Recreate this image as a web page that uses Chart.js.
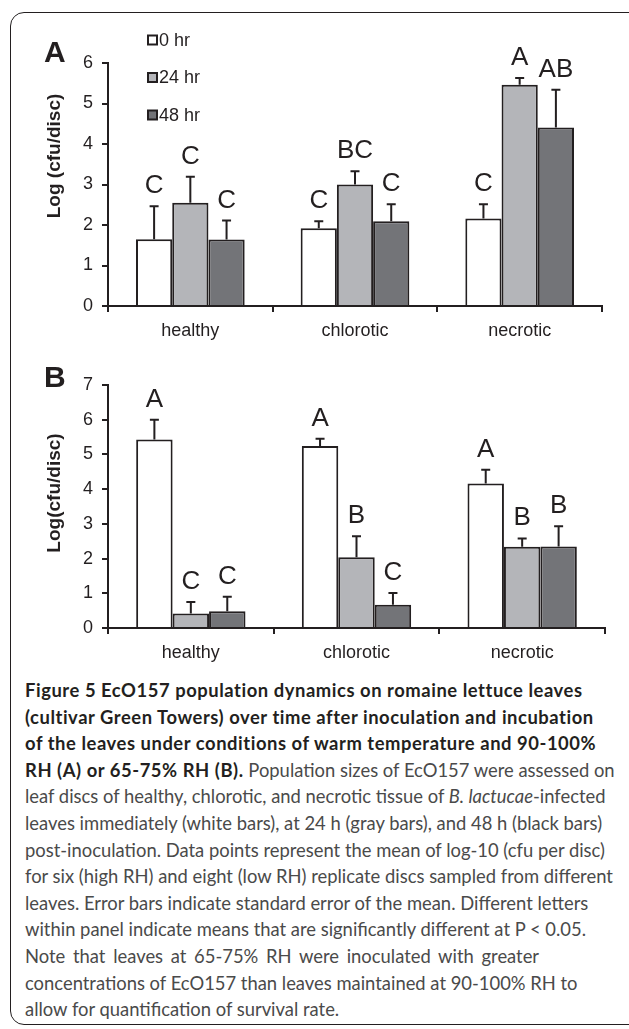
<!DOCTYPE html>
<html>
<head>
<meta charset="utf-8">
<script src="https://cdn.jsdelivr.net/npm/chart.js@4.4.1/dist/chart.umd.min.js"></script>
<style>
  html, body { margin: 0; padding: 0; background: #fff; }
  body { width: 629px; height: 1029px; position: relative; overflow: hidden; }
  .frame {
    position: absolute; left: 10px; top: 12px; width: 650px; height: 1013px;
    border: 1.5px solid #231f20; border-radius: 14px; box-sizing: border-box;
  }
  canvas { position: absolute; left: 0; }
  #chartA { top: 0; }
  #chartB { top: 345px; }
  .caption {
    position: absolute; left: 25px; top: 677px; width: 600px;
    font-family: Lato, "Open Sans", sans-serif; font-size: 18.4px; line-height: 26.6px;
    color: #4a4a4a; white-space: nowrap;
  }
  .caption b { color: #231f20; font-weight: 700; letter-spacing: 0.55px; }
</style>
</head>
<body>
<div class="frame"></div>
<canvas id="chartA" width="629" height="345"></canvas>
<canvas id="chartB" width="629" height="330"></canvas>
<div class="caption">
  <div><b>Figure 5 EcO157 population dynamics on romaine lettuce leaves</b></div>
  <div><b>(cultivar Green Towers) over time after inoculation and incubation</b></div>
  <div><b>of the leaves under conditions of warm temperature and 90-100%</b></div>
  <div><b>RH (A) or 65-75% RH (B).</b> Population sizes of EcO157 were assessed on</div>
  <div>leaf discs of healthy, chlorotic, and necrotic tissue of <i>B. lactucae</i>-infected</div>
  <div>leaves immediately (white bars), at 24 h (gray bars), and 48 h (black bars)</div>
  <div>post-inoculation. Data points represent the mean of log-10 (cfu per disc)</div>
  <div>for six (high RH) and eight (low RH) replicate discs sampled from different</div>
  <div>leaves. Error bars indicate standard error of the mean. Different letters</div>
  <div>within panel indicate means that are significantly different at P &lt; 0.05.</div>
  <div style="word-spacing: 3px;">Note that leaves at 65-75% RH were inoculated with greater</div>
  <div>concentrations of EcO157 than leaves maintained at 90-100% RH to</div>
  <div>allow for quantification of survival rate.</div>
</div>
<script>
const categories = ['healthy', 'chlorotic', 'necrotic'];
const seriesLabels = ['0 hr', '24 hr', '48 hr'];
const seriesColors = ['#ffffff', '#b4b5b9', '#737478'];

// panel A: 90-100% RH
const meanA0 = [1.65, 1.92, 2.16];
const meanA24 = [2.55, 3.00, 5.46];
const meanA48 = [1.64, 2.09, 4.41];
const seA0 = [0.81, 0.17, 0.35];
const seA24 = [0.64, 0.33, 0.17];
const seA48 = [0.47, 0.42, 0.93];
const lettersA0 = ['C', 'C', 'C'];
const lettersA24 = ['C', 'BC', 'A'];
const lettersA48 = ['C', 'C', 'AB'];

// panel B: 65-75% RH
const meanB0 = [5.43, 5.24, 4.16];
const meanB24 = [0.42, 2.04, 2.34];
const meanB48 = [0.48, 0.67, 2.35];
const seB0 = [0.57, 0.21, 0.40];
const seB24 = [0.33, 0.60, 0.24];
const seB48 = [0.42, 0.34, 0.58];
const lettersB0 = ['A', 'A', 'A'];
const lettersB24 = ['C', 'B', 'B'];
const lettersB48 = ['C', 'C', 'B'];

const ink = '#231f20';
const font = '"Liberation Sans", Arial, sans-serif';

// error bars (upper only) and significance letters
const errorBars = {
  id: 'errorBars',
  afterDatasetsDraw(chart) {
    const ctx = chart.ctx;
    const y = chart.scales.y;
    chart.data.datasets.forEach((ds, i) => {
      chart.getDatasetMeta(i).data.forEach((bar, j) => {
        const top = y.getPixelForValue(ds.data[j] + ds.errors[j]);
        ctx.save();
        ctx.strokeStyle = ink;
        ctx.lineWidth = 2;
        ctx.beginPath();
        ctx.moveTo(bar.x, bar.y);
        ctx.lineTo(bar.x, top);
        ctx.moveTo(bar.x - 4.5, top);
        ctx.lineTo(bar.x + 4.5, top);
        ctx.stroke();
        ctx.fillStyle = ink;
        ctx.font = '26px ' + font;
        ctx.textAlign = 'center';
        ctx.textBaseline = 'alphabetic';
        ctx.fillText(ds.letters[j], bar.x, top - 13);
        ctx.restore();
      });
    });
  }
};

// panel letter, rotated y title and legend
const decorations = {
  id: 'decorations',
  afterDraw(chart, args, opts) {
    const ctx = chart.ctx;
    ctx.save();
    ctx.fillStyle = ink;
    ctx.font = 'bold 30px ' + font;
    ctx.textAlign = 'left';
    ctx.textBaseline = 'alphabetic';
    ctx.fillText(opts.panel, 44, opts.panelY);

    ctx.save();
    ctx.translate(55, opts.titleY);
    ctx.rotate(-Math.PI / 2);
    ctx.font = 'bold 19px ' + font;
    ctx.textAlign = 'center';
    ctx.textBaseline = 'middle';
    ctx.fillText(opts.title, 0, 0);
    ctx.restore();

    if (opts.legend) {
      ctx.font = '18px ' + font;
      ctx.textBaseline = 'middle';
      chart.data.datasets.forEach((ds, i) => {
        const cy = 40 + i * 37.5;
        ctx.fillStyle = ds.backgroundColor;
        ctx.fillRect(148, cy - 4.5, 9, 9);
        ctx.strokeStyle = ink;
        ctx.lineWidth = 2;
        ctx.strokeRect(148, cy - 4.5, 9, 9);
        ctx.fillStyle = ink;
        ctx.fillText(ds.label, 159, cy + 1);
      });
    }
    ctx.restore();
  }
};

function makeDatasets(means, errs, letters) {
  return means.map((m, i) => ({
    label: seriesLabels[i],
    data: m,
    errors: errs[i],
    letters: letters[i],
    backgroundColor: seriesColors[i],
    borderColor: ink,
    borderWidth: 2,
    categoryPercentage: 0.66,
    barPercentage: 1.0
  }));
}

function makeChart(id, datasets, yMax, pad, deco) {
  return new Chart(document.getElementById(id), {
    type: 'bar',
    data: { labels: categories, datasets: datasets },
    plugins: [errorBars, decorations],
    options: {
      responsive: false,
      animation: false,
      layout: { padding: pad },
      plugins: {
        legend: { display: false },
        tooltip: { enabled: false },
        decorations: deco
      },
      scales: {
        x: {
          afterFit: s => { s.height = 38; },
          border: { display: true, color: ink, width: 2 },
          grid: { display: true, drawOnChartArea: false, drawTicks: true, tickLength: 6, offset: true, color: ink, lineWidth: 2 },
          ticks: { color: ink, font: { family: font, size: 18 }, padding: 8 }
        },
        y: {
          min: 0,
          max: yMax,
          afterFit: s => { s.width = 108; },
          border: { display: true, color: ink, width: 2 },
          grid: { display: true, drawOnChartArea: false, drawTicks: true, tickLength: 6, color: ink, lineWidth: 2 },
          ticks: { stepSize: 1, color: ink, font: { family: font, size: 18 }, padding: 9 }
        }
      }
    }
  });
}

makeChart('chartA',
  makeDatasets([meanA0, meanA24, meanA48], [seA0, seA24, seA48], [lettersA0, lettersA24, lettersA48]),
  6, { left: 0, right: 27, top: 63, bottom: 1 },
  { panel: 'A', panelY: 62, title: 'Log (cfu/disc)', titleY: 156, legend: true });

makeChart('chartB',
  makeDatasets([meanB0, meanB24, meanB48], [seB0, seB24, seB48], [lettersB0, lettersB24, lettersB48]),
  7, { left: 0, right: 24, top: 40, bottom: 9 },
  { panel: 'B', panelY: 42, title: 'Log(cfu/disc)', titleY: 148, legend: false });
</script>
</body>
</html>
